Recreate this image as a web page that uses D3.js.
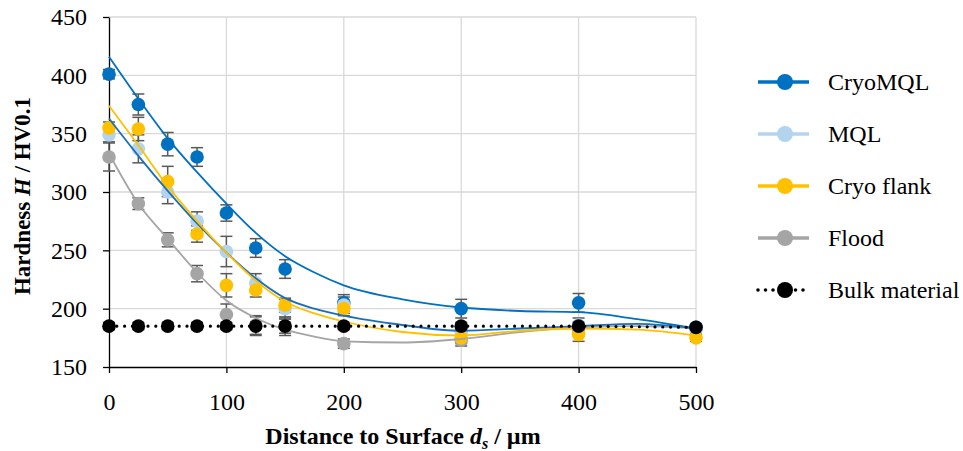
<!DOCTYPE html>
<html lang="en">
<head>
<meta charset="UTF-8">
<title>Hardness vs distance</title>
<script src="https://d3js.org/d3.v7.min.js"></script>
<style>
  * { margin: 0; padding: 0; }
  body { background: #fff; width: 963px; height: 451px; overflow: hidden; }
  svg text { font-family: "Liberation Serif", "Times New Roman", serif; fill: #000; }
  .grid line { stroke: #d9d9d9; stroke-width: 1.3px; }
  .axis path, .axis line { stroke: #000; stroke-width: 1.3px; }
  .axis text { font-size: 24px; }
</style>
</head>
<body>
<svg id="chart" width="963" height="451"></svg>
<script>
// measured distances (µm)
const depths = [0, 25, 50, 75, 100, 125, 150, 200, 300, 400, 500];

// mean hardness per series
const cryoMql   = [401, 375, 341, 330, 282, 252, 234, 205, 200, 205, 184];
const mql       = [349, 337, 300, 275, 249, 222, 200, 203, 180, 186, 182];
const cryoFlank = [355, 354, 309, 264, 220, 216, 203, 200, 175, 178, 175];
const flood     = [330, 290, 259, 230, 195, 186, 185, 170, 173, 183, 183];
const bulk      = [185, 185, 185, 185, 185, 185, 185, 185, 185, 185, 184];

// standard deviation (error bar half length)
const cryoMqlErr   = [4, 9, 10, 8, 7, 8, 8, 7, 8, 8, 3];
const mqlErr       = [6, 12, 10, 8, 13, 8, 8, 7, 6, 6, 3];
const cryoFlankErr = [5, 10, 13, 7, 10, 6, 6, 6, 5, 6, 3];
const floodErr     = [12, 5, 6, 7, 9, 8, 8, 4, 5, 5, 3];
const bulkErr      = [3, 3, 3, 3, 3, 8, 6, 3, 3, 3, 3];

// trend curves
const trendDepths    = [0, 25, 50, 75, 100, 125, 150, 175, 200, 250, 300, 350, 400, 450, 500];
const cryoMqlTrend   = [416, 380, 346, 317, 290, 265, 245, 231, 220, 208, 201, 198, 197, 191, 183];
const mqlTrend       = [363, 331, 301, 273, 248, 226, 209, 200, 194, 186, 181, 183, 185, 187, 183];
const cryoFlankTrend = [374, 340, 305, 275, 248, 224, 206, 196, 189, 180, 177, 181, 183, 182, 177];
const floodTrend     = [333, 290, 260, 231, 207, 192, 182, 176, 172, 171, 174, 180, 184, 185, 183];

const xTicks = [0, 100, 200, 300, 400, 500];
const yTicks = [150, 200, 250, 300, 350, 400, 450];

const series = [
  { name: 'CryoMQL',     values: cryoMql,   err: cryoMqlErr,   color: '#0070c0', trend: cryoMqlTrend,   trendColor: '#0070c0' },
  { name: 'MQL',         values: mql,       err: mqlErr,       color: '#b4d4ee', trend: mqlTrend,       trendColor: '#1a6fbd' },
  { name: 'Cryo flank',  values: cryoFlank, err: cryoFlankErr, color: '#ffc000', trend: cryoFlankTrend, trendColor: '#ffc000' },
  { name: 'Flood',       values: flood,     err: floodErr,     color: '#a5a5a5', trend: floodTrend,     trendColor: '#a5a5a5' },
  { name: 'Bulk material', values: bulk,    err: bulkErr,      color: '#000000', dotted: true }
];

const margin = { top: 17, right: 267, bottom: 84, left: 109 };
const W = 963, H = 451;
const iw = W - margin.left - margin.right;
const ih = H - margin.top - margin.bottom;

const svg = d3.select('#chart');
const g = svg.append('g').attr('transform', `translate(${margin.left},${margin.top})`);

const x = d3.scaleLinear().domain([0, 500]).range([0, iw]);
const y = d3.scaleLinear().domain([150, 450]).range([ih, 0]);

// gridlines
g.append('g').attr('class', 'grid')
  .selectAll('line').data(yTicks.slice(1)).join('line')
  .attr('x1', 0).attr('x2', iw).attr('y1', d => y(d)).attr('y2', d => y(d));
g.append('g').attr('class', 'grid')
  .selectAll('line').data(xTicks.slice(1)).join('line')
  .attr('x1', d => x(d)).attr('x2', d => x(d)).attr('y1', 0).attr('y2', ih);

// axes
g.append('g').attr('class', 'axis')
  .call(d3.axisLeft(y).tickValues(yTicks).tickSize(6).tickSizeOuter(0).tickPadding(16));
g.append('g').attr('class', 'axis').attr('transform', `translate(0,${ih})`)
  .call(d3.axisBottom(x).tickValues(xTicks).tickSize(6).tickSizeOuter(0).tickPadding(20));
g.selectAll('.axis').attr('font-family', null).attr('font-size', null);

// axis titles
svg.append('text')
  .attr('x', 403).attr('y', 444).attr('text-anchor', 'middle')
  .style('font-size', '24px').style('font-weight', 'bold')
  .call(t => {
    t.append('tspan').text('Distance to Surface ');
    t.append('tspan').attr('font-style', 'italic').text('d');
    t.append('tspan').attr('font-style', 'italic').attr('font-size', '16px').attr('dy', 5).text('s');
    t.append('tspan').attr('dy', -5).text(' / µm');
  });

svg.append('text')
  .attr('transform', 'translate(30,196) rotate(-90)').attr('text-anchor', 'middle')
  .style('font-size', '23px').style('font-weight', 'bold')
  .call(t => {
    t.append('tspan').text('Hardness ');
    t.append('tspan').attr('font-style', 'italic').text('H');
    t.append('tspan').text(' / HV0.1');
  });

const drawOrder = [series[3], series[0], series[1], series[2]];

// error bars
const errG = g.append('g');
series.forEach(s => {
  const eg = errG.append('g').attr('stroke', '#595959').attr('stroke-width', 1.5);
  depths.forEach((d, i) => {
    const cx = x(d), y0 = y(s.values[i] - s.err[i]), y1 = y(s.values[i] + s.err[i]);
    eg.append('line').attr('x1', cx).attr('x2', cx).attr('y1', y0).attr('y2', y1);
    eg.append('line').attr('x1', cx - 6).attr('x2', cx + 6).attr('y1', y0).attr('y2', y0);
    eg.append('line').attr('x1', cx - 6).attr('x2', cx + 6).attr('y1', y1).attr('y2', y1);
  });
});

// markers
drawOrder.forEach(s => {
  g.append('g').selectAll('circle').data(s.values).join('circle')
    .attr('cx', (v, i) => x(depths[i])).attr('cy', v => y(v))
    .attr('r', 6.8).attr('fill', s.color);
});

// trend lines
const trendLine = d3.line().x((v, i) => x(trendDepths[i])).y(v => y(v)).curve(d3.curveMonotoneX);
drawOrder.forEach(s => {
  g.append('path').datum(s.trend)
    .attr('d', trendLine).attr('fill', 'none')
    .attr('stroke', s.trendColor).attr('stroke-width', 1.8);
});

// bulk material: dotted line + markers
const bulkS = series[4];
const bulkLine = d3.line().x((v, i) => x(depths[i])).y(v => y(v));
g.append('g').selectAll('circle').data(bulkS.values).join('circle')
  .attr('cx', (v, i) => x(depths[i])).attr('cy', v => y(v))
  .attr('r', 6.8).attr('fill', '#000');
g.append('path').datum(bulkS.values)
  .attr('d', bulkLine).attr('fill', 'none').attr('stroke', '#000')
  .attr('stroke-width', 3.2).attr('stroke-linecap', 'round').attr('stroke-dasharray', '0 7.8');

// legend
const legend = svg.append('g').attr('transform', 'translate(758,82)');
series.forEach((s, i) => {
  const row = legend.append('g').attr('transform', `translate(0,${i * 52})`);
  const ln = row.append('line').attr('x1', 0).attr('x2', 51).attr('y1', 0).attr('y2', 0)
    .attr('stroke', s.color).attr('stroke-width', 3.3);
  if (s.dotted) ln.attr('stroke-linecap', 'round').attr('stroke-dasharray', '0 7.5').attr('stroke-width', 3.6);
  row.append('circle').attr('cx', 27).attr('cy', 0).attr('r', 8).attr('fill', s.color);
  row.append('text').attr('x', 70).attr('y', 8).style('font-size', '24px').text(s.name);
});
</script>
</body>
</html>
